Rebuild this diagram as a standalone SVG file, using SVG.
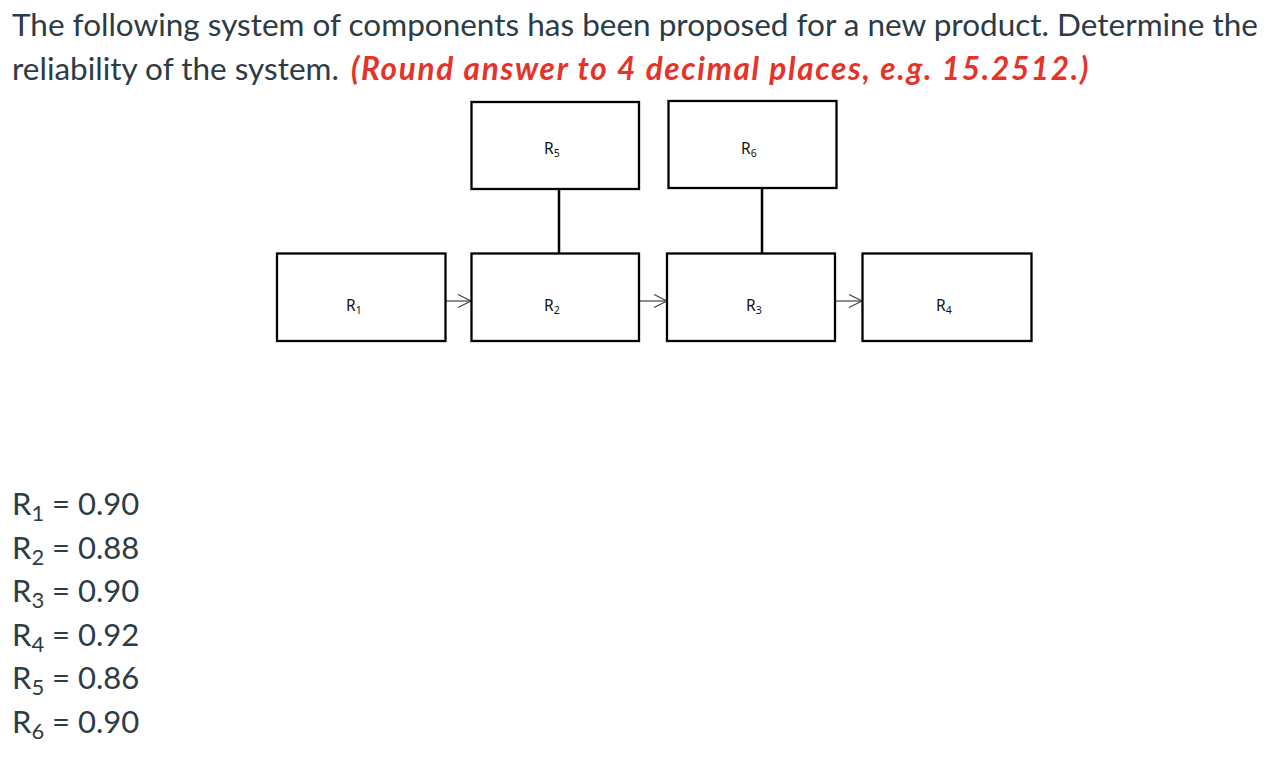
<svg xmlns="http://www.w3.org/2000/svg" width="1286" height="772" viewBox="0 0 1286 772">
<style>
.t{font-family:Lato,"Noto Sans",sans-serif;font-size:31.5px;fill:#2d3b45}
.v{font-family:Lato,"Noto Sans",sans-serif;font-size:31px;fill:#2d3b45}
.red{fill:#e5332a;font-weight:bold;font-style:italic;letter-spacing:1.7px}
.box{fill:#fff;stroke:#000;stroke-width:2.3}
.lbl{font-family:"Noto Sans","Open Sans",sans-serif;font-size:15.5px;fill:#111}
.sub{font-size:10.5px}
.flow{stroke:#444;stroke-width:1.2;fill:none}
.link{stroke:#000;stroke-width:2.5}
.ls{font-size:22px}
</style>
<defs>
<marker id="chev" markerWidth="16" markerHeight="16" refX="14" refY="7" orient="auto" markerUnits="userSpaceOnUse">
<path d="M1,0.5 L14,7 L1,13.5" fill="none" stroke="#444" stroke-width="1.2"/>
</marker>
</defs>
<rect width="1286" height="772" fill="#fff"/>
<text class="t" x="12" y="35.5">The following system of components has been proposed for a new product. Determine the</text>
<text class="t" x="12" y="80">reliability of the system. <tspan class="red" dx="4">(Round answer to 4 decimal places, e.g. 15.2512.)</tspan></text>

<g id="connectors">
<line class="flow" x1="446" y1="301" x2="471" y2="301" marker-end="url(#chev)"/>
<line class="flow" x1="639" y1="301" x2="667" y2="301" marker-end="url(#chev)"/>
<line class="flow" x1="835" y1="301" x2="862" y2="301" marker-end="url(#chev)"/>
<line class="link" x1="559" y1="189" x2="559" y2="253"/>
<line class="link" x1="762" y1="188" x2="762" y2="253"/>
</g>

<g id="n1"><rect class="box" x="277" y="253.5" width="168.5" height="87.5"/><text class="lbl" x="346" y="311">R<tspan class="sub" dy="3">1</tspan></text></g>
<g id="n2"><rect class="box" x="471.5" y="253.5" width="167.5" height="87.5"/><text class="lbl" x="544" y="311">R<tspan class="sub" dy="3">2</tspan></text></g>
<g id="n3"><rect class="box" x="667" y="253.5" width="168" height="87.5"/><text class="lbl" x="746" y="311">R<tspan class="sub" dy="3">3</tspan></text></g>
<g id="n4"><rect class="box" x="862.5" y="253.5" width="169" height="87.5"/><text class="lbl" x="936" y="311">R<tspan class="sub" dy="3">4</tspan></text></g>
<g id="n5"><rect class="box" x="471.5" y="102" width="167.5" height="87"/><text class="lbl" x="544" y="154">R<tspan class="sub" dy="3">5</tspan></text></g>
<g id="n6"><rect class="box" x="668.5" y="101" width="168" height="87"/><text class="lbl" x="741" y="154">R<tspan class="sub" dy="3">6</tspan></text></g>

<g id="values">
<text class="v" x="12" y="515">R<tspan class="ls" dy="6">1</tspan><tspan dy="-6"> = 0.90</tspan></text>
<text class="v" x="12" y="558.6">R<tspan class="ls" dy="6">2</tspan><tspan dy="-6"> = 0.88</tspan></text>
<text class="v" x="12" y="602.2">R<tspan class="ls" dy="6">3</tspan><tspan dy="-6"> = 0.90</tspan></text>
<text class="v" x="12" y="645.8">R<tspan class="ls" dy="6">4</tspan><tspan dy="-6"> = 0.92</tspan></text>
<text class="v" x="12" y="689.4">R<tspan class="ls" dy="6">5</tspan><tspan dy="-6"> = 0.86</tspan></text>
<text class="v" x="12" y="733">R<tspan class="ls" dy="6">6</tspan><tspan dy="-6"> = 0.90</tspan></text>
</g>
</svg>
